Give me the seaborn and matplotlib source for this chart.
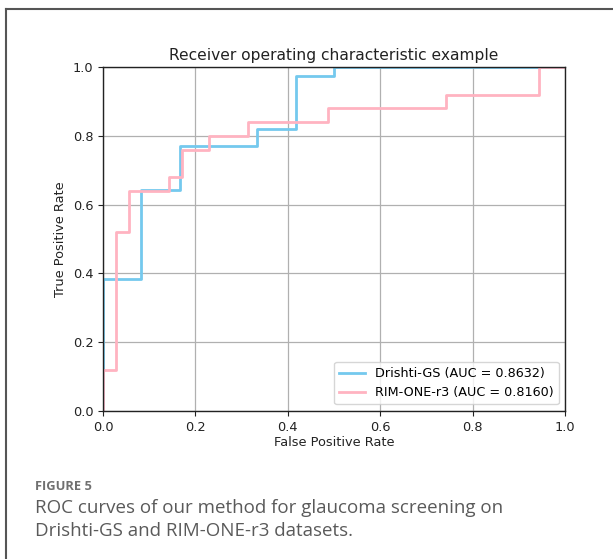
import matplotlib
matplotlib.use('Agg')
import matplotlib.pyplot as plt
import seaborn as sns
import pandas as pd
from matplotlib.lines import Line2D

# ROC corner points
drishti_fpr = [0.0, 0.0, 0.083, 0.083, 0.167, 0.167, 0.333, 0.333, 0.417, 0.417, 0.5, 0.5, 1.0]
drishti_tpr = [0.0, 0.385, 0.385, 0.641, 0.641, 0.769, 0.769, 0.821, 0.821, 0.974, 0.974, 1.0, 1.0]

rim_fpr = [0.0, 0.0, 0.029, 0.029, 0.057, 0.057, 0.143, 0.143, 0.171, 0.171, 0.229, 0.229,
           0.314, 0.314, 0.486, 0.486, 0.743, 0.743, 0.943, 0.943, 1.0]
rim_tpr = [0.0, 0.12, 0.12, 0.52, 0.52, 0.64, 0.64, 0.68, 0.68, 0.76, 0.76, 0.80,
           0.80, 0.84, 0.84, 0.88, 0.88, 0.92, 0.92, 1.0, 1.0]

labels = ['Drishti-GS (AUC = 0.8632)', 'RIM-ONE-r3 (AUC = 0.8160)']
colors = ['#74c9ee', '#ffb3c1']
ticks = [0.0, 0.2, 0.4, 0.6, 0.8, 1.0]

fig = plt.figure(figsize=(6.13, 5.59), dpi=100)
ax = fig.add_axes([0.168, 0.265, 0.7537, 0.615])

df1 = pd.DataFrame({'fpr': drishti_fpr, 'tpr': drishti_tpr})
df2 = pd.DataFrame({'fpr': rim_fpr, 'tpr': rim_tpr})
sns.lineplot(data=df1, x='fpr', y='tpr', sort=False, estimator=None,
             color=colors[0], lw=2, label=labels[0], ax=ax)
sns.lineplot(data=df2, x='fpr', y='tpr', sort=False, estimator=None,
             color=colors[1], lw=2, label=labels[1], ax=ax)

ax.set_xlim(0.0, 1.0)
ax.set_ylim(0.0, 1.0)
ax.set_xticks(ticks)
ax.set_yticks(ticks)
ax.tick_params(labelsize=9.3, length=3.5, colors='#222222')
ax.grid(True, color='#b0b0b0', lw=0.9)
ax.set_axisbelow(True)
for s in ax.spines.values():
    s.set_color('#222222')
    s.set_linewidth(1.0)
ax.set_xlabel('False Positive Rate', fontsize=9.3, labelpad=2, color='#222222')
ax.set_ylabel('True Positive Rate', fontsize=9.3, labelpad=4, color='#222222')
ax.set_title('Receiver operating characteristic example', fontsize=11.2, pad=5, color='#222222')
ax.legend(loc='lower right', fontsize=9.2, framealpha=0.8)

# journal frame and caption
fig.add_artist(Line2D([6 / 613, 1.0], [1 - 9 / 559, 1 - 9 / 559], color='#555555', lw=1.5))
fig.add_artist(Line2D([6 / 613, 6 / 613], [1 - 9 / 559, 0.0], color='#555555', lw=1.5))
fig.text(35 / 613, 1 - 487 / 559, 'FIGURE 5', fontsize=9.3, color='#707070',
         family='Open Sans', weight='bold', va='center')
fig.text(35 / 613, 1 - 508 / 559, 'ROC curves of our method for glaucoma screening on',
         fontsize=13.5, color='#5a5a5a', family='Open Sans', va='center')
fig.text(35 / 613, 1 - 531 / 559, 'Drishti-GS and RIM-ONE-r3 datasets.',
         fontsize=13.5, color='#5a5a5a', family='Open Sans', va='center')

fig.savefig('out.png', dpi=100)
